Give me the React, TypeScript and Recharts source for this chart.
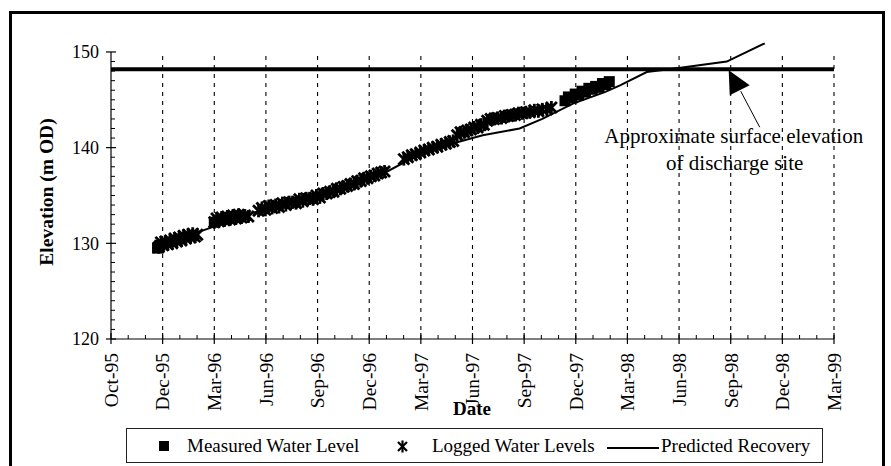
import React from 'react';
import {
  ComposedChart, Line, Scatter, XAxis, YAxis, ReferenceLine, ReferenceDot,
} from 'recharts';

// Days counted from 1 Oct 1995; major ticks every 91 days
const tickLabels = ['Oct-95', 'Dec-95', 'Mar-96', 'Jun-96', 'Sep-96', 'Dec-96', 'Mar-97', 'Jun-97', 'Sep-97', 'Dec-97', 'Mar-98', 'Jun-98', 'Sep-98', 'Dec-98', 'Mar-99'];
const yMajorLabels = [120, 130, 140, 150];
const dischargeElevation = 148.2;
const dischargeDay = 1092; // Sep-98

const loggedDays = [84, 88, 92, 96, 100, 104, 108, 112, 116, 120, 124, 128, 132, 136, 140, 144, 148, 152,
  182, 186, 190, 195, 200, 205, 210, 215, 220, 225, 230, 236, 242,
  260, 266, 272, 278, 284, 290, 296, 302, 308, 314, 320, 326, 332, 338, 344, 350, 356, 362, 368, 374, 380, 386, 392, 398, 404, 410, 416, 422, 428, 434, 440, 446, 452, 458, 464, 470, 476, 482,
  516, 523, 530, 537, 545, 552, 560, 567, 575, 582, 590, 597, 603,
  610, 616, 622, 628, 634, 640, 646, 652, 657,
  663, 669, 675, 681, 688, 694, 700, 706, 712, 718, 725, 731, 738, 746, 753, 760, 768, 776];
const loggedValues = [129.6, 130.1, 129.8, 130.2, 129.9, 130.3, 130.0, 130.5, 130.2, 130.6, 130.3, 130.8, 130.5, 130.9, 130.6, 131.0, 130.7, 130.9,
  132.2, 132.6, 132.3, 132.7, 132.4, 132.8, 132.5, 132.9, 132.6, 133.0, 132.7, 132.9, 132.8,
  133.4, 133.7, 133.5, 133.9, 133.7, 134.0, 133.8, 134.2, 134.0, 134.3, 134.3, 134.2, 134.6, 134.4, 134.7, 134.7, 134.6, 135.0, 134.8, 135.2, 135.2, 135.4, 135.4, 135.7, 135.7, 135.9, 136.0, 136.2, 136.2, 136.5, 136.5, 136.8, 136.8, 137.0, 137.1, 137.3, 137.4, 137.5,
  138.8, 139.0, 139.2, 139.3, 139.5, 139.7, 139.8, 140.0, 140.1, 140.3, 140.4, 140.6, 140.7,
  141.3, 141.6, 141.6, 141.8, 141.9, 142.1, 142.1, 142.4, 142.4,
  142.8, 143.0, 143.0, 143.1, 143.1, 143.3, 143.3, 143.4, 143.4, 143.6, 143.6, 143.7, 143.7, 143.9, 143.8, 144.0, 144.0, 144.2];

const measuredDays = [82, 86, 182, 800, 806, 812, 818, 824, 830, 836, 842, 848, 854, 860, 866, 872, 878];
const measuredValues = [129.5, 129.8, 132.2, 144.9, 145.3, 145.2, 145.6, 145.5, 145.9, 145.8, 146.2, 146.1, 146.4, 146.3, 146.7, 146.6, 146.9];

const predictedDays = [80, 160, 250, 330, 400, 480, 540, 600, 655, 720, 760, 814, 870, 897, 944, 997, 1085, 1152];
const predictedValues = [129.7, 131.3, 133.2, 134.4, 135.4, 137.3, 139.2, 140.4, 141.3, 142.0, 143.0, 144.6, 145.8, 146.5, 147.9, 148.3, 149.0, 150.9];

const logged = loggedDays.map((d, i) => ({ day: d, value: loggedValues[i] }));
const measured = measuredDays.map((d, i) => ({ day: d, value: measuredValues[i] }));
const predicted = predictedDays.map((d, i) => ({ day: d, value: predictedValues[i] }));

const MAJOR = 91;
const majorTicks = tickLabels.map((_, i) => i * MAJOR);
const xTicks: number[] = [];
majorTicks.forEach((t, i) => {
  xTicks.push(t);
  if (i < majorTicks.length - 1) {
    xTicks.push(t + MAJOR / 3, t + (2 * MAJOR) / 3);
  }
});
const yTicks: number[] = [];
for (let v = 120; v <= 150; v++) yTicks.push(v);

const SERIF = '"Liberation Serif", "Times New Roman", serif';

const XTick = (props: any) => {
  const { x, y, payload } = props;
  const idx = majorTicks.findIndex((t) => Math.abs(t - payload.value) < 0.01);
  if (idx < 0) {
    return <line x1={x} x2={x} y1={y - 4} y2={y} stroke="#000" strokeWidth={1} />;
  }
  return (
    <g>
      <line x1={x} x2={x} y1={y - 6} y2={y + 5} stroke="#000" strokeWidth={1.2} />
      <text
        x={x}
        y={y + 14}
        transform={`rotate(-90, ${x}, ${y + 14})`}
        textAnchor="end"
        dy="0.35em"
        fontFamily={SERIF}
        fontSize={19.5}
        fill="#000"
      >
        {tickLabels[idx]}
      </text>
    </g>
  );
};

const YTick = (props: any) => {
  const { x, y, payload } = props;
  const isMajor = yMajorLabels.includes(payload.value);
  if (!isMajor) {
    return <line x1={x} x2={x + 4} y1={y} y2={y} stroke="#000" strokeWidth={1} />;
  }
  return (
    <g>
      <line x1={x - 5} x2={x + 5} y1={y} y2={y} stroke="#000" strokeWidth={1.2} />
      <text x={x - 12} y={y} dy="0.35em" textAnchor="end" fontFamily={SERIF} fontSize={18} fill="#000">
        {payload.value}
      </text>
    </g>
  );
};

const StarShape = (props: any) => {
  const { cx, cy } = props;
  const r = 5.5;
  return (
    <g stroke="#000" strokeWidth={2.8}>
      <line x1={cx - r} y1={cy - r} x2={cx + r} y2={cy + r} />
      <line x1={cx - r} y1={cy + r} x2={cx + r} y2={cy - r} />
      <line x1={cx} y1={cy - r - 1} x2={cx} y2={cy + r + 1} />
    </g>
  );
};

const SquareShape = (props: any) => {
  const { cx, cy } = props;
  return <rect x={cx - 5.5} y={cy - 5.5} width={11} height={11} fill="#000" />;
};

const Annotation = (props: any) => {
  const { cx, cy } = props;
  return (
    <g>
      <polygon points={`${cx - 2},${cy + 1} ${cx + 19},${cy + 16} ${cx - 1},${cy + 26}`} fill="#000" />
      <line x1={cx + 10} y1={cy + 22} x2={cx + 29} y2={cy + 58} stroke="#000" strokeWidth={1} />
      <text x={cx + 3} y={cy + 74} textAnchor="middle" fontFamily={SERIF} fontSize={21} fill="#000">
        Approximate surface elevation
      </text>
      <text x={cx + 4} y={cy + 101} textAnchor="middle" fontFamily={SERIF} fontSize={21} fill="#000">
        of discharge site
      </text>
    </g>
  );
};

export default function App() {
  return (
    <div style={{ position: 'fixed', left: 0, top: 0, width: 891, height: 466, background: '#fff', overflow: 'hidden' }}>
      <div
        style={{
          position: 'absolute', left: 9, top: 11, width: 876, height: 470,
          border: '3px solid #000', boxSizing: 'border-box',
        }}
      />
      <div style={{ position: 'absolute', left: 0, top: 0 }}>
        <ComposedChart width={891} height={466} margin={{ top: 42.4, right: 57, bottom: 57, left: 51 }}>
          <XAxis
            type="number"
            dataKey="day"
            domain={[0, 1274]}
            ticks={xTicks}
            interval={0}
            tick={<XTick />}
            tickLine={false}
            tickSize={0}
            tickMargin={0}
            height={70}
            axisLine={{ stroke: '#000', strokeWidth: 1.2 }}
          />
          <YAxis
            type="number"
            dataKey="value"
            domain={[120, 151]}
            ticks={yTicks}
            interval={0}
            tick={<YTick />}
            tickLine={false}
            tickSize={0}
            tickMargin={0}
            width={60}
            axisLine={false}
          />
          <ReferenceLine segment={[{ x: 0, y: 120 }, { x: 0, y: 150 }]} stroke="#000" strokeWidth={1.2} />
          {majorTicks.slice(1).map((t) => (
            <ReferenceLine
              key={t}
              segment={[{ x: t, y: 120 }, { x: t, y: 150 }]}
              stroke="#000"
              strokeWidth={1.1}
              strokeDasharray="4 5"
            />
          ))}
          <ReferenceLine y={dischargeElevation} stroke="#000" strokeWidth={4} />
          <Line
            data={predicted}
            dataKey="value"
            type="linear"
            stroke="#000"
            strokeWidth={2}
            dot={false}
            isAnimationActive={false}
          />
          <Scatter data={logged} dataKey="value" shape={<StarShape />} isAnimationActive={false} />
          <Scatter data={measured} dataKey="value" shape={<SquareShape />} isAnimationActive={false} />
          <ReferenceDot x={dischargeDay} y={dischargeElevation} r={0} shape={<Annotation />} />
        </ComposedChart>
      </div>
      <div
        style={{
          position: 'absolute', left: 47, top: 192, transform: 'translate(-50%, -50%) rotate(-90deg)',
          fontFamily: SERIF, fontWeight: 'bold', fontSize: 19.5, whiteSpace: 'nowrap', lineHeight: 1,
        }}
      >
        Elevation (m OD)
      </div>
      <div
        style={{
          position: 'absolute', left: 472, top: 408, transform: 'translate(-50%, -50%)',
          fontFamily: SERIF, fontWeight: 'bold', fontSize: 19, whiteSpace: 'nowrap', lineHeight: 1,
        }}
      >
        Date
      </div>
      <div
        style={{
          position: 'absolute', left: 126, top: 428, width: 697, height: 35,
          border: '1px solid #222', boxSizing: 'border-box', fontFamily: SERIF, fontSize: 19,
        }}
      >
        <svg width={697} height={35} style={{ position: 'absolute', left: -1, top: -1 }}>
          <rect x={33} y={13} width={10} height={10} fill="#000" />
          <g stroke="#000" strokeWidth={2.2}>
            <line x1={272} y1={14} x2={281} y2={23} />
            <line x1={272} y1={23} x2={281} y2={14} />
            <line x1={276.5} y1={12.5} x2={276.5} y2={24.5} />
          </g>
          <line x1={481} y1={20} x2={533} y2={20} stroke="#000" strokeWidth={2} />
        </svg>
        <span style={{ position: 'absolute', left: 60, top: 6, whiteSpace: 'nowrap' }}>Measured Water Level</span>
        <span style={{ position: 'absolute', left: 305, top: 6, whiteSpace: 'nowrap' }}>Logged Water Levels</span>
        <span style={{ position: 'absolute', left: 534, top: 6, whiteSpace: 'nowrap' }}>Predicted Recovery</span>
      </div>
    </div>
  );
}
